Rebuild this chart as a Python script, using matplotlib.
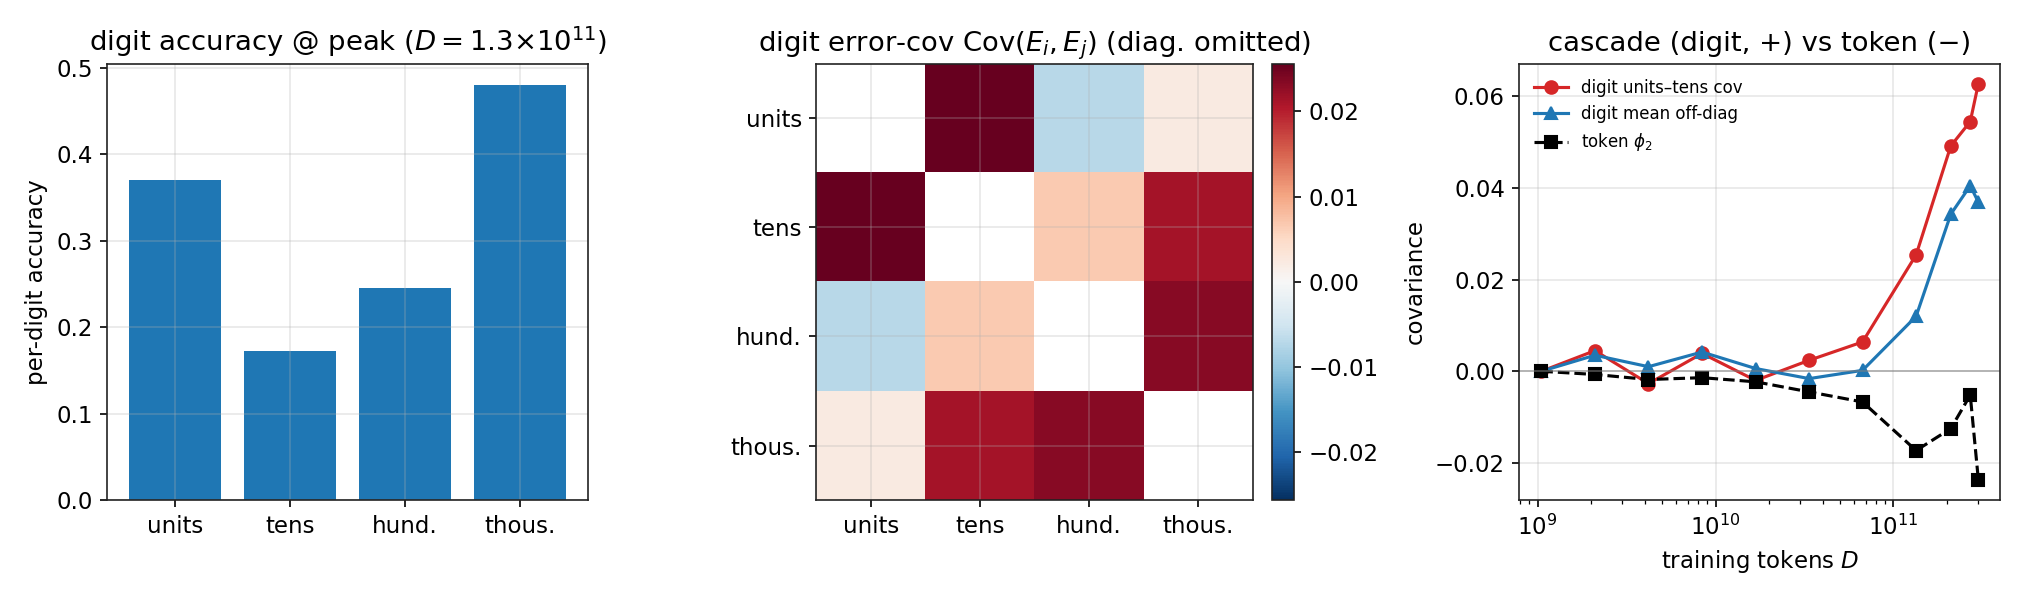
import numpy as np
import matplotlib
matplotlib.use("Agg")
import matplotlib.pyplot as plt

plt.rcParams['font.size'] = 11
plt.rcParams['axes.grid'] = True
plt.rcParams['grid.alpha'] = 0.3
plt.rcParams['axes.edgecolor'] = '#222222'

digits = ["units", "tens", "hund.", "thous."]

# panel 1: per-digit accuracy at peak
acc_peak = [0.3705, 0.172, 0.245, 0.4805]

# panel 2: off-diagonal error covariance (symmetric)
cov_ut = 0.0256
cov_uh = -0.0072
cov_uth = 0.0022
cov_th = 0.0067
cov_tth = 0.0212
cov_hth = 0.0233

# panel 3: cascade vs training tokens
D = [1.05e9, 2.1e9, 4.2e9, 8.4e9, 1.68e10, 3.36e10, 6.7e10, 1.34e11, 2.1e11, 2.7e11, 3.0e11]
units_tens = [0.0, 0.0045, -0.0027, 0.0039, -0.002, 0.0024, 0.0064, 0.0254, 0.0492, 0.0545, 0.0628]
mean_offdiag = [0.0, 0.0035, 0.001, 0.0042, 0.0006, -0.0016, 0.0002, 0.012, 0.0343, 0.0405, 0.0369]
token_phi2 = [0.0, -0.0007, -0.0018, -0.0014, -0.0023, -0.0045, -0.0067, -0.0173, -0.0125, -0.0052, -0.0238]

C = np.array([
    [np.nan, cov_ut, cov_uh, cov_uth],
    [cov_ut, np.nan, cov_th, cov_tth],
    [cov_uh, cov_th, np.nan, cov_hth],
    [cov_uth, cov_tth, cov_hth, np.nan],
])

fig, axes = plt.subplots(1, 3, figsize=(13.5, 4), dpi=150)

# --- accuracy bars
ax = axes[0]
ax.bar(digits, acc_peak, color='C0')
ax.set_ylabel("per-digit accuracy")
ax.set_title(r"digit accuracy @ peak ($D=1.3{\times}10^{11}$)")

# --- covariance heatmap
ax = axes[1]
v = np.nanmax(np.abs(C))
im = ax.imshow(C, cmap='RdBu_r', vmin=-v, vmax=v)
ax.set_xticks(range(4))
ax.set_xticklabels(digits)
ax.set_yticks(range(4))
ax.set_yticklabels(digits)
ax.set_title(r"digit error-cov Cov$(E_i,E_j)$ (diag. omitted)")
fig.colorbar(im, ax=ax, fraction=0.046, pad=0.04)

# --- cascade
ax = axes[2]
ax.semilogx(D, units_tens, 'o-', color='tab:red', label="digit units–tens cov")
ax.semilogx(D, mean_offdiag, '^-', color='tab:blue', label="digit mean off-diag")
ax.semilogx(D, token_phi2, 's--', color='k', label=r"token $\phi_2$")
ax.axhline(0, color='gray', lw=0.8, alpha=0.6)
ax.set_xlabel("training tokens $D$")
ax.set_ylabel("covariance")
ax.set_title("cascade (digit, +) vs token (−)")
ax.legend(fontsize=8, frameon=False)

plt.tight_layout()
plt.savefig("out.png")
